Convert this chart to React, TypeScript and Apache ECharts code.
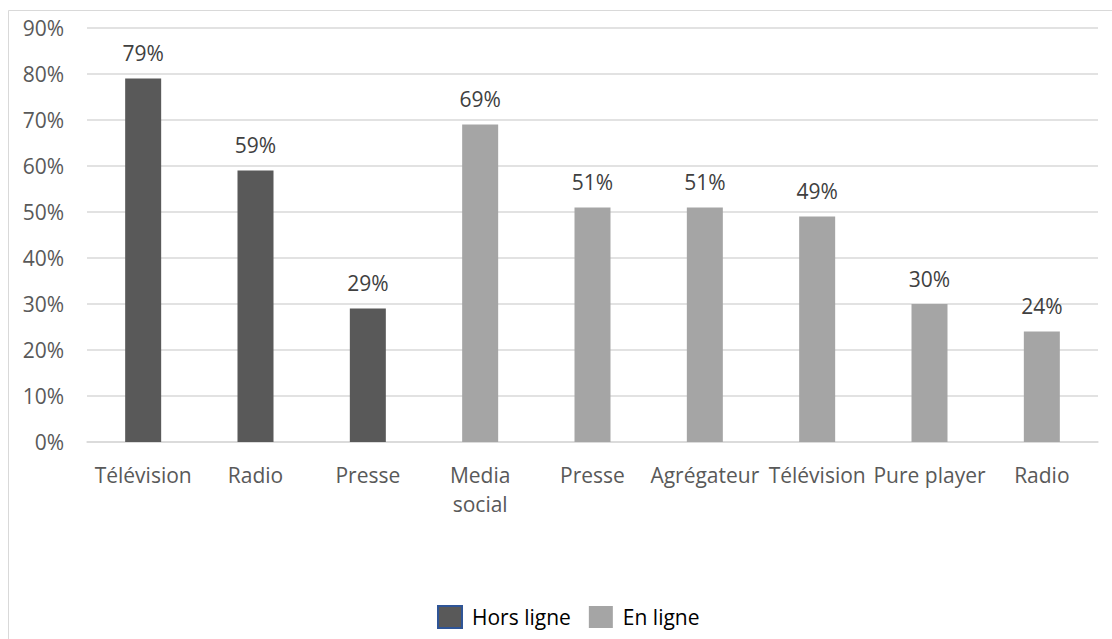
import React, { useEffect, useRef } from "react";
import * as echarts from "echarts";

const categories = ["Télévision", "Radio", "Presse", "Media\nsocial", "Presse", "Agrégateur", "Télévision", "Pure player", "Radio"];
const horsLigne: (number | string)[] = [79, 59, 29, "-", "-", "-", "-", "-", "-"];
const enLigne: (number | string)[] = ["-", "-", "-", 69, 51, 51, 49, 30, 24];
const yTicks = { min: 0, max: 90, interval: 10 };

const FONT = "Open Sans";

export default function App() {
  const ref = useRef<HTMLDivElement>(null);
  useEffect(() => {
    if (!ref.current) return;
    const chart = echarts.init(ref.current, null, { renderer: "svg" });
    const label = {
      show: true,
      position: "top" as const,
      distance: 15,
      formatter: (p: any) => `${p.value}%`,
      color: "#404040",
      fontFamily: FONT,
      fontSize: 21,
    };
    chart.setOption({
      animation: false,
      backgroundColor: "#ffffff",
      graphic: [
        {
          type: "rect",
          shape: { x: 8.5, y: 10.5, width: 1300, height: 800 },
          style: { fill: "none", stroke: "#d9d9d9", lineWidth: 1 },
          silent: true,
        },
      ],
      grid: { left: 87, right: 14, top: 28, bottom: 197, containLabel: false },
      xAxis: {
        type: "category",
        data: categories,
        axisLine: { show: true, lineStyle: { color: "#d9d9d9", width: 1.5 } },
        axisTick: { show: false },
        axisLabel: {
          color: "#595959",
          fontFamily: FONT,
          fontSize: 21,
          margin: 18,
          lineHeight: 29,
          interval: 0,
        },
      },
      yAxis: {
        type: "value",
        min: yTicks.min,
        max: yTicks.max,
        interval: yTicks.interval,
        axisLine: { show: false },
        axisTick: { show: false },
        splitLine: { lineStyle: { color: "#d9d9d9", width: 1.5 } },
        axisLabel: {
          color: "#595959",
          fontFamily: FONT,
          fontSize: 21,
          margin: 23,
          formatter: "{value}%",
        },
      },
      legend: {
        left: 432,
        top: 600,
        icon: "rect",
        itemWidth: 24,
        itemHeight: 22,
        itemGap: 18,
        textStyle: { color: "#000000", fontFamily: FONT, fontSize: 21, padding: [0, 0, 0, 5] },
        data: [
          { name: "Hors ligne", itemStyle: { borderColor: "#2f5597", borderWidth: 2 } },
          { name: "En ligne" },
        ],
      },
      series: [
        {
          name: "Hors ligne",
          type: "bar",
          stack: "s",
          data: horsLigne,
          barWidth: 36,
          itemStyle: { color: "#595959" },
          label,
        },
        {
          name: "En ligne",
          type: "bar",
          stack: "s",
          data: enLigne,
          barWidth: 36,
          itemStyle: { color: "#a5a5a5" },
          label,
        },
      ],
    });
    return () => chart.dispose();
  }, []);
  return (
    <div
      ref={ref}
      style={{ position: "absolute", left: 0, top: 0, width: 1112, height: 639 }}
    />
  );
}
